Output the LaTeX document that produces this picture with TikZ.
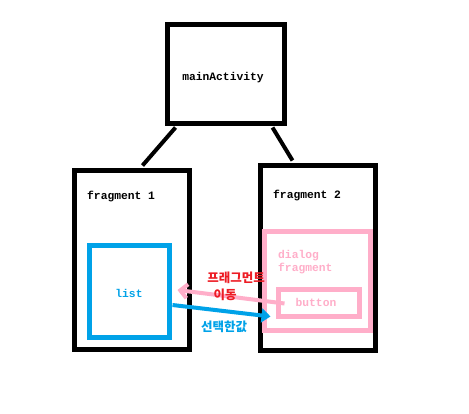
\documentclass[tikz,border=0pt]{standalone}
\usepackage{fontspec}
\setmonofont{Liberation Mono}
\newfontfamily\kofont{Noto Sans CJK KR}
\usetikzlibrary{calc,arrows.meta}
\definecolor{pblue}{HTML}{00A2E8}
\definecolor{ppink}{HTML}{FFAEC9}
\definecolor{pred}{HTML}{ED1C24}
\begin{document}
\begin{tikzpicture}[x=1pt,y=-1pt,
  boxk/.style={draw=black,line width=5pt,rectangle,inner sep=0pt,fill=white},
  boxb/.style={draw=pblue,line width=5pt,rectangle,inner sep=0pt},
  boxp/.style={draw=ppink,line width=5pt,rectangle,inner sep=0pt},
  lbl/.style={font=\ttfamily\bfseries\fontsize{11.3}{13.5}\selectfont,inner sep=0pt},
  ko/.style={font=\kofont\bfseries\fontsize{12.5}{14}\selectfont,inner sep=0pt},
  link/.style={draw=black,line width=4pt},
  parr/.style={draw=ppink,line width=4pt,-{Straight Barb[length=7pt,width=14pt,line width=4pt]}},
  barr/.style={draw=pblue,line width=4pt,-{Triangle[length=9pt,width=14pt]}}
]
\useasboundingbox[fill=white] (0,0) rectangle (469,413);
% boxes
\node[boxk,minimum width=117pt,minimum height=99pt] (main) at (225.5,73.5) {};
\node[boxk,minimum width=115pt,minimum height=179pt] (f1) at (131.5,259.5) {};
\node[boxk,minimum width=115pt,minimum height=185pt] (f2) at (317.5,257.5) {};
\node[boxb,minimum width=80pt,minimum height=92pt] (list) at (129,291) {};
\node[boxp,minimum width=106pt,minimum height=99pt] (dlg) at (317,280.5) {};
\node[boxp,minimum width=81pt,minimum height=27pt] (btn) at (318.5,302.5) {};
% connectors
\draw[link] ($(main.south west)+(11,2)$) -- ($(f1.north west)+(71,-2)$);
\draw[link] ($(main.south west)+(108,2)$) -- ($(f2.north west)+(35,-2)$);
% texts
\node[lbl] (tmain) at (223,78) {mainActivity};
\node[lbl,anchor=west] (tf1) at (87,197) {fragment 1};
\node[lbl,anchor=west] (tf2) at (273,196) {fragment 2};
\node[lbl,text=pblue] (tlist) at (129,293) {list};
\node[lbl,text=ppink,anchor=west,align=left] (tdlg) at (278,262) {dialog\\fragment};
\node[lbl,text=ppink] (tbtn) at (316,302) {button};
% arrows
\coordinate (ptail) at ($(btn.west)+(9,1)$);
\coordinate (ptip) at ($(list.east)+(6,-1)$);
\draw[parr] (ptail) -- (ptip);
\coordinate (btail) at ($(list.east)+(1,14)$);
\coordinate (btip) at ($(f2.west)+(13,59)$);
\draw[barr] (btail) -- (btip);
\node[ko,text=pred] (tk1) at (236,278) {프래그먼트};
\node[ko,text=pred] (tk2) at (225,295) {이동};
\node[ko,text=pblue] (tk3) at (224,327) {선택한값};
\end{tikzpicture}
\end{document}
